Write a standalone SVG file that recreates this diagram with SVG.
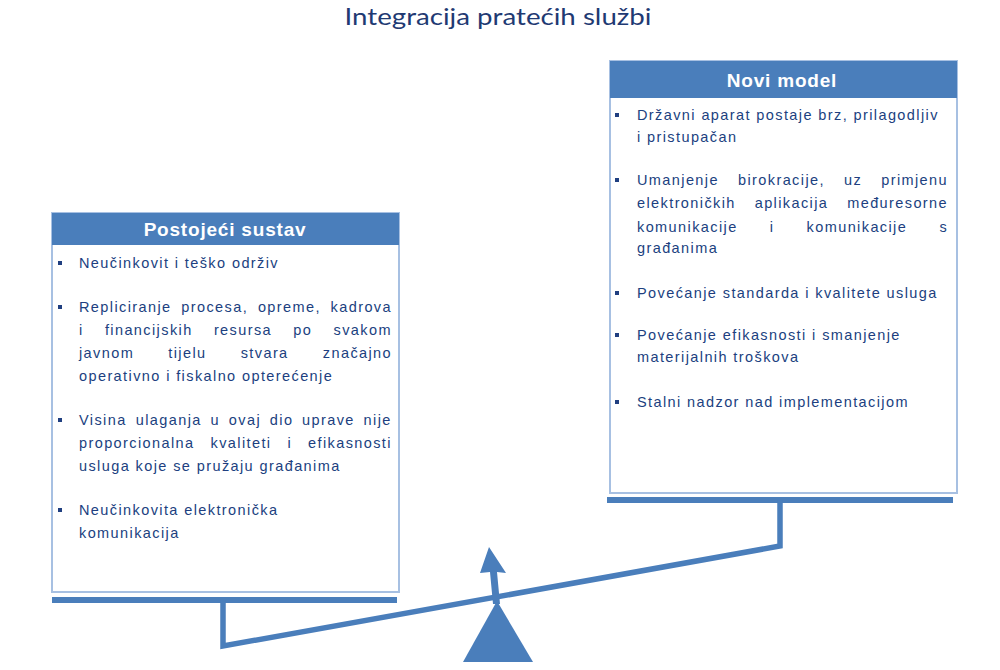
<svg xmlns="http://www.w3.org/2000/svg" width="1000" height="670" viewBox="0 0 1000 670">
<style>
.t{font-family:"Liberation Sans",Arial,sans-serif;font-size:14.5px;letter-spacing:1.4px;fill:#203F80}
.h{font-family:"Liberation Sans",Arial,sans-serif;font-size:19px;font-weight:bold;letter-spacing:0.8px;fill:#ffffff;text-anchor:middle}
.box{fill:#ffffff;stroke:#A7C0E2;stroke-width:2}
.hd{fill:#4A7EBB}
.bl{fill:#203F80}
.beam{fill:#4A7EBB}
.ln{fill:none;stroke:#4A7EBB;stroke-width:5.5;stroke-linejoin:miter}
</style>
<rect width="1000" height="670" fill="#ffffff"/>
<text x="498" y="25" font-family="Lato,'Open Sans',sans-serif" font-size="23" fill="#1F3A73" text-anchor="middle" textLength="307" lengthAdjust="spacingAndGlyphs">Integracija pratećih službi</text>

<g id="connectors">
<rect class="beam" x="52" y="597" width="345" height="6"/>
<rect class="beam" x="607" y="497" width="346" height="6"/>
<polyline class="ln" points="223,600 223,646 780,546 780,500"/>
<polygon class="beam" points="463,662 533,662 497,601"/>
<polygon class="beam" points="493,604 500,604 497,572 506,573 489,547 480,573 490,572"/>
</g>

<g id="postojeci">
<rect class="box" x="52" y="213" width="347" height="379"/>
<rect class="hd" x="52" y="213" width="347" height="32"/>
<text class="h" x="225" y="236">Postojeći sustav</text>
<rect class="bl" x="58" y="261" width="4" height="4"/>
<rect class="bl" x="58" y="305" width="4" height="4"/>
<rect class="bl" x="58" y="418" width="4" height="4"/>
<rect class="bl" x="58" y="508" width="4" height="4"/>
<text class="t" x="79" y="268">Neučinkovit  i teško održiv</text>
<text class="t" y="312"><tspan x="79">Repliciranje</tspan><tspan x="181.3">procesa,</tspan><tspan x="257.9">opreme,</tspan><tspan x="330.6">kadrova</tspan></text>
<text class="t" y="335"><tspan x="79">i</tspan><tspan x="104.9">financijskih</tspan><tspan x="213.9">resursa</tspan><tspan x="293.3">po</tspan><tspan x="333.5">svakom</tspan></text>
<text class="t" y="358"><tspan x="79">javnom</tspan><tspan x="168.3">tijelu</tspan><tspan x="240.7">stvara</tspan><tspan x="322.8">značajno</tspan></text>
<text class="t" x="79" y="381">operativno  i fiskalno opterećenje</text>
<text class="t" y="425"><tspan x="79">Visina</tspan><tspan x="135.7">ulaganja</tspan><tspan x="210.5">u</tspan><tspan x="228.8">ovaj</tspan><tspan x="269.8">dio</tspan><tspan x="302.1">uprave</tspan><tspan x="363.6">nije</tspan></text>
<text class="t" y="448"><tspan x="79">proporcionalna</tspan><tspan x="210.5">kvaliteti</tspan><tspan x="287.4">i</tspan><tspan x="308">efikasnosti</tspan></text>
<text class="t" x="79" y="471">usluga  koje se pružaju građanima</text>
<text class="t" x="79" y="515">Neučinkovita  elektronička</text>
<text class="t" x="79" y="538">komunikacija</text>
</g>

<g id="novi">
<rect class="box" x="610" y="61" width="347" height="432"/>
<rect class="hd" x="610" y="61" width="347" height="37"/>
<text class="h" x="782" y="87">Novi model</text>
<rect class="bl" x="615" y="113" width="4" height="4"/>
<rect class="bl" x="615" y="178" width="4" height="4"/>
<rect class="bl" x="615" y="291" width="4" height="4"/>
<rect class="bl" x="615" y="333" width="4" height="4"/>
<rect class="bl" x="615" y="400" width="4" height="4"/>
<text class="t" x="637" y="120">Državni aparat postaje brz, prilagodljiv</text>
<text class="t" x="637" y="142">i pristupačan</text>
<text class="t" y="185"><tspan x="637">Umanjenje</tspan><tspan x="738">birokracije,</tspan><tspan x="844">uz</tspan><tspan x="881.2">primjenu</tspan></text>
<text class="t" y="208"><tspan x="637">elektroničkih</tspan><tspan x="754.7">aplikacija</tspan><tspan x="847.2">međuresorne</tspan></text>
<text class="t" y="232"><tspan x="637">komunikacije</tspan><tspan x="769.8">i</tspan><tspan x="806.6">komunikacije</tspan><tspan x="939.4">s</tspan></text>
<text class="t" x="637" y="253">građanima</text>
<text class="t" x="637" y="298">Povećanje  standarda  i kvalitete  usluga</text>
<text class="t" x="637" y="340">Povećanje  efikasnosti  i smanjenje</text>
<text class="t" x="637" y="362">materijalnih  troškova</text>
<text class="t" x="637" y="407">Stalni  nadzor  nad  implementacijom</text>
</g>
</svg>
